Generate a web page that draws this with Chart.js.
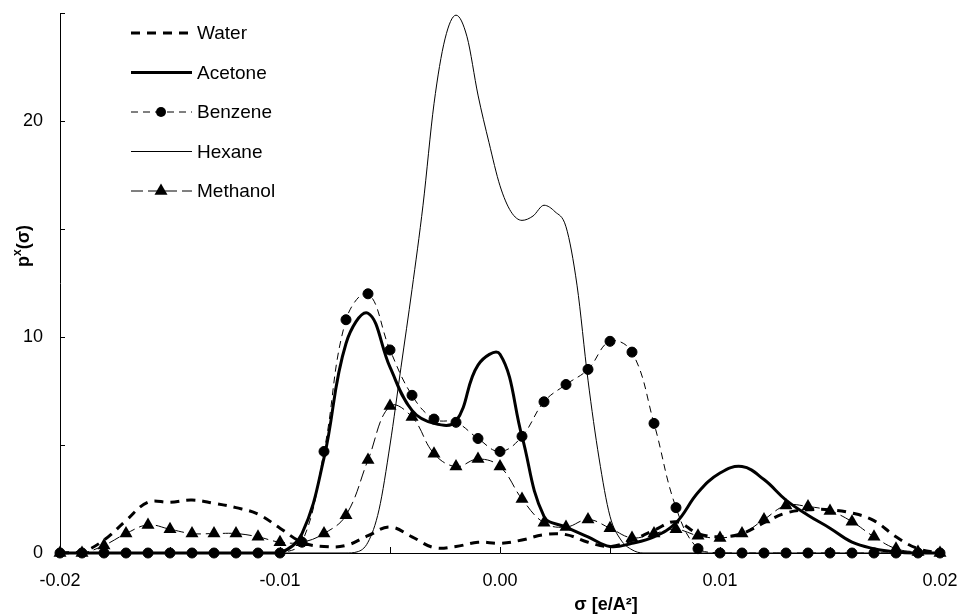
<!DOCTYPE html>
<html>
<head>
<meta charset="utf-8">
<script src="https://cdn.jsdelivr.net/npm/chart.js@4/dist/chart.umd.min.js"></script>
<style>
  body { margin: 0; background: #fff; }
  #wrap { width: 966px; height: 615px; }
</style>
</head>
<body>
<div id="wrap"><canvas id="sigmaChart" width="966" height="615"></canvas></div>
<script>
// sigma grid [e/A^2], 0.001 steps
var sigma = [-0.020, -0.019, -0.018, -0.017, -0.016, -0.015, -0.014, -0.013, -0.012, -0.011,
  -0.010, -0.009, -0.008, -0.007, -0.006, -0.005, -0.004, -0.003, -0.002, -0.001,
  0.000, 0.001, 0.002, 0.003, 0.004, 0.005, 0.006, 0.007, 0.008, 0.009,
  0.010, 0.011, 0.012, 0.013, 0.014, 0.015, 0.016, 0.017, 0.018, 0.019, 0.020];

var water = [0, 0.05, 0.6, 1.5, 2.35, 2.35, 2.45, 2.3, 2.1, 1.8,
  1.15, 0.5, 0.3, 0.35, 0.8, 1.2, 0.75, 0.25, 0.3, 0.5,
  0.45, 0.6, 0.85, 0.85, 0.5, 0.3, 0.6, 1.05, 1.45, 0.9,
  0.75, 0.9, 1.4, 1.85, 2.0, 2.0, 1.85, 1.5, 0.75, 0.2, 0];

var acetone = [0, 0, 0, 0, 0, 0, 0, 0, 0, 0,
  0, 0.9, 4.4, 9.7, 11.1, 8.6, 6.6, 6.0, 6.1, 8.7,
  9.2, 5.4, 1.7, 1.2, 0.75, 0.3, 0.45, 0.75, 1.4, 2.8,
  3.7, 4.0, 3.4, 2.45, 1.75, 1.15, 0.5, 0.2, 0.05, 0, 0];

var benzene = [0, 0, 0, 0, 0, 0, 0, 0, 0, 0,
  0, 0.5, 4.7, 10.8, 12.0, 9.4, 7.3, 6.2, 6.05, 5.3,
  4.7, 5.4, 7.0, 7.8, 8.5, 9.8, 9.3, 6.0, 2.1, 0.2,
  0, 0, 0, 0, 0, 0, 0, 0, 0, 0, 0];

var methanol = [0, 0, 0.35, 0.9, 1.3, 1.1, 0.9, 0.9, 0.9, 0.75,
  0.5, 0.5, 0.9, 1.75, 4.3, 6.8, 6.3, 4.6, 4.0, 4.35,
  4.0, 2.5, 1.4, 1.2, 1.55, 1.15, 0.7, 0.9, 1.1, 0.8,
  0.7, 0.9, 1.55, 2.2, 2.15, 1.95, 1.45, 0.75, 0.2, 0.05, 0];

// hexane is read on a finer grid around its peak
var hexaneSigma = [-0.020, -0.010, -0.008, -0.0075, -0.007, -0.0065, -0.006, -0.0055, -0.005, -0.0045,
  -0.004, -0.0035, -0.003, -0.0025, -0.002, -0.0015, -0.001, -0.0005, 0.000, 0.0005,
  0.001, 0.0015, 0.002, 0.0025, 0.003, 0.0035, 0.004, 0.0045, 0.005, 0.0055,
  0.006, 0.0065, 0.007, 0.010, 0.020];
var hexane = [0, 0, 0, 0, 0, 0.05, 0.5, 2.0, 5.0, 8.6,
  12.2, 16.1, 20.8, 23.8, 24.9, 23.9, 21.2, 19.0, 17.0, 15.8,
  15.4, 15.6, 16.1, 15.8, 15.1, 12.4, 8.0, 4.4, 1.7, 0.6,
  0.15, 0, 0, 0, 0];

var xTicksLabelled = [-0.02, -0.01, 0.00, 0.01, 0.02];
var yTicksLabelled = [0, 10, 20];

function pts(xs, ys) {
  return xs.map(function (x, i) { return { x: x, y: ys[i] }; });
}

var FONT = '"Liberation Sans", Arial, sans-serif';

var innerTicks = {
  id: 'innerTicks',
  afterDraw: function (chart) {
    var ctx = chart.ctx, a = chart.chartArea;
    var xs = chart.scales.x, ys = chart.scales.y;
    ctx.save();
    ctx.strokeStyle = '#000';
    ctx.lineWidth = 1;
    ctx.beginPath();
    ys.ticks.forEach(function (t) {
      var py = Math.round(ys.getPixelForValue(t.value)) + 0.5;
      ctx.moveTo(a.left, py);
      ctx.lineTo(a.left + 5, py);
    });
    xs.ticks.forEach(function (t) {
      var px = Math.round(xs.getPixelForValue(t.value)) + 0.5;
      ctx.moveTo(px, a.bottom);
      ctx.lineTo(px, a.bottom - 6);
    });
    ctx.stroke();

    // axis titles
    ctx.fillStyle = '#000';
    ctx.font = 'bold 18px ' + FONT;
    ctx.textAlign = 'center';
    ctx.textBaseline = 'middle';
    ctx.fillText('\u03c3 [e/A\u00b2]', 606, 605);

    ctx.translate(24, 246);
    ctx.rotate(-Math.PI / 2);
    ctx.textAlign = 'left';
    var w1 = ctx.measureText('p').width;
    ctx.font = 'bold 12px ' + FONT;
    var w2 = ctx.measureText('x').width;
    ctx.font = 'bold 18px ' + FONT;
    var w3 = ctx.measureText('(\u03c3)').width;
    var x0 = -(w1 + w2 + w3) / 2;
    ctx.fillText('p', x0, 0);
    ctx.font = 'bold 12px ' + FONT;
    ctx.fillText('x', x0 + w1, -6);
    ctx.font = 'bold 18px ' + FONT;
    ctx.fillText('(\u03c3)', x0 + w1 + w2, 0);
    ctx.restore();
  }
};

var sketchLegend = {
  id: 'sketchLegend',
  afterDraw: function (chart) {
    var ctx = chart.ctx;
    chart.data.datasets.forEach(function (ds, i) {
      var y = 33 + i * 39.5;
      ctx.save();
      ctx.strokeStyle = '#000';
      ctx.fillStyle = '#000';
      ctx.lineWidth = ds.borderWidth;
      ctx.setLineDash(ds.borderDash || []);
      ctx.beginPath();
      ctx.moveTo(131, y);
      ctx.lineTo(192, y);
      ctx.stroke();
      ctx.setLineDash([]);
      if (ds.pointRadius > 0) {
        var r = ds.pointRadius;
        ctx.beginPath();
        if (ds.pointStyle === 'triangle') {
          ctx.moveTo(161, y - r);
          ctx.lineTo(161 + r * 0.866, y + r / 2);
          ctx.lineTo(161 - r * 0.866, y + r / 2);
          ctx.closePath();
        } else {
          ctx.arc(161, y, r, 0, Math.PI * 2);
        }
        ctx.fill();
      }
      ctx.font = '19px ' + FONT;
      ctx.textAlign = 'left';
      ctx.textBaseline = 'middle';
      ctx.fillText(ds.label, 197, y + 1);
      ctx.restore();
    });
  }
};

var chart = new Chart(document.getElementById('sigmaChart'), {
  type: 'line',
  data: {
    datasets: [{
      label: 'Water',
      data: pts(sigma, water),
      borderColor: '#000',
      borderWidth: 3,
      borderDash: [9, 7],
      pointRadius: 0,
      tension: 0.4
    }, {
      label: 'Acetone',
      data: pts(sigma, acetone),
      borderColor: '#000',
      borderWidth: 3,
      pointRadius: 0,
      tension: 0.4
    }, {
      label: 'Benzene',
      data: pts(sigma, benzene),
      borderColor: '#000',
      borderWidth: 1,
      borderDash: [7, 5],
      pointStyle: 'circle',
      pointRadius: 5,
      pointBackgroundColor: '#000',
      pointBorderColor: '#000',
      tension: 0.4
    }, {
      label: 'Hexane',
      data: pts(hexaneSigma, hexane),
      borderColor: '#000',
      borderWidth: 1,
      pointRadius: 0,
      cubicInterpolationMode: 'monotone'
    }, {
      label: 'Methanol',
      data: pts(sigma, methanol),
      borderColor: '#000',
      borderWidth: 1,
      borderDash: [12, 5],
      pointStyle: 'triangle',
      pointRadius: 7.5,
      pointBackgroundColor: '#000',
      pointBorderColor: '#000',
      pointBorderWidth: 0,
      tension: 0.4
    }]
  },
  options: {
    responsive: false,
    animation: false,
    clip: false,
    layout: {
      padding: { top: 13, right: 26, left: 0, bottom: 0 }
    },
    plugins: {
      legend: { display: false },
      tooltip: { enabled: false }
    },
    elements: {
      point: { hoverRadius: 0 }
    },
    scales: {
      x: {
        type: 'linear',
        min: -0.02,
        max: 0.02,
        grid: { drawOnChartArea: false, drawTicks: false },
        border: { display: true, color: '#000', width: 1 },
        afterFit: function (s) {
          s.height = 62;
          s.paddingLeft = 0;
          s.paddingRight = 0;
        },
        ticks: {
          stepSize: 0.005,
          padding: 17,
          color: '#000',
          font: { family: FONT, size: 18 },
          maxRotation: 0,
          autoSkip: false,
          callback: function (v) {
            var k = Math.round(v * 1000);
            return xTicksLabelled.some(function (t) { return Math.round(t * 1000) === k; }) ? (k / 1000).toFixed(2) : '';
          }
        }
      },
      y: {
        min: 0,
        max: 25,
        grid: { drawOnChartArea: false, drawTicks: false },
        border: { display: true, color: '#000', width: 1 },
        afterFit: function (s) {
          s.width = 60;
          s.paddingTop = 0;
          s.paddingBottom = 0;
        },
        ticks: {
          stepSize: 5,
          padding: 17,
          color: '#000',
          font: { family: FONT, size: 18 },
          autoSkip: false,
          callback: function (v) {
            return yTicksLabelled.indexOf(v) >= 0 ? String(v) : '';
          }
        }
      }
    }
  },
  plugins: [innerTicks, sketchLegend]
});
</script>
</body>
</html>
